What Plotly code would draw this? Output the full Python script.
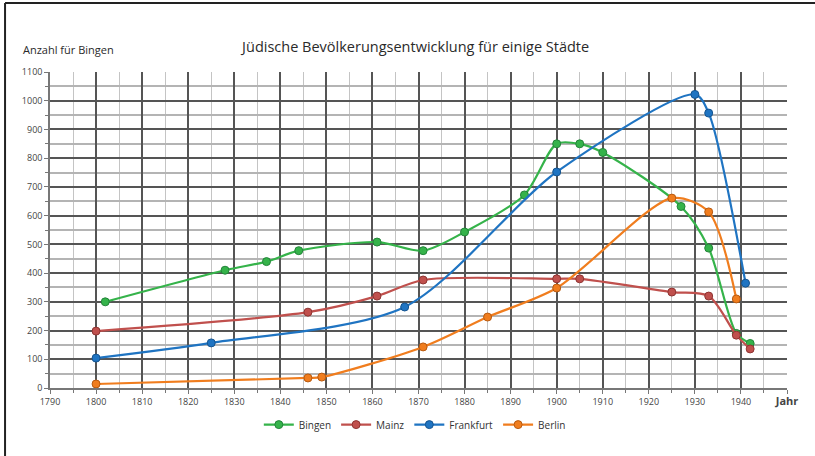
import plotly.graph_objects as go

# ---- data ----
bingen_years = [1802, 1828, 1837, 1844, 1861, 1871, 1880, 1893, 1900, 1905, 1910, 1927, 1933, 1939, 1942]
bingen_vals = [300, 410, 440, 478, 508, 478, 543, 672, 850, 850, 820, 632, 487, 190, 155]

mainz_years = [1800, 1846, 1861, 1871, 1900, 1905, 1925, 1933, 1939, 1942]
mainz_vals = [198, 264, 320, 376, 380, 380, 334, 320, 184, 136]

frankfurt_years = [1800, 1825, 1867, 1900, 1930, 1933, 1941]
frankfurt_vals = [104, 157, 282, 752, 1022, 957, 365]

berlin_years = [1800, 1846, 1849, 1871, 1885, 1900, 1925, 1933, 1939]
berlin_vals = [14, 35, 38, 143, 247, 348, 661, 613, 310]

x_ticks = list(range(1790, 1951, 10))
x_ticktext = [str(v) for v in range(1790, 1941, 10)] + ["<b><span style='font-size:11px'>Jahr</span></b>"]
y_ticks = list(range(0, 1101, 100))

series = [
    ("Bingen", bingen_years, bingen_vals, "#35b34a", "#23843a"),
    ("Mainz", mainz_years, mainz_vals, "#c0504d", "#8e3432"),
    ("Frankfurt", frankfurt_years, frankfurt_vals, "#1f74c2", "#15548f"),
    ("Berlin", berlin_years, berlin_vals, "#f07d1e", "#b85a10"),
]

fig = go.Figure()
for name, xs, ys, col, edge in series:
    fig.add_trace(go.Scatter(
        x=xs, y=ys, name=name, mode="lines+markers",
        line=dict(color=col, width=2.2, shape="spline", smoothing=0.8),
        marker=dict(size=8, color=col, line=dict(color=edge, width=1)),
    ))

fig.update_layout(
    width=815, height=456,
    margin=dict(l=50, r=28, t=72, b=68, autoexpand=False),
    paper_bgcolor="white", plot_bgcolor="white",
    font=dict(family="Open Sans, sans-serif", color="#333"),
    title=dict(text="Jüdische Bevölkerungsentwicklung für einige Städte",
               x=0.51, xanchor="center", y=0.897, yanchor="middle",
               font=dict(size=14.5, color="#2a2a2a")),
    showlegend=True,
    legend=dict(orientation="h", x=0.495, xanchor="center", y=-0.07, yanchor="top",
                font=dict(size=10, color="#333"), itemwidth=30,
                tracegroupgap=0),
    xaxis=dict(range=[1790, 1950], tickvals=x_ticks, ticktext=x_ticktext,
               showgrid=True, gridcolor="#555", gridwidth=1.5,
               minor=dict(dtick=5, showgrid=True, gridcolor="#c4c4c4", gridwidth=1,
                          ticks="outside", ticklen=3, tickcolor="#777"),
               ticks="outside", ticklen=4, tickcolor="#777",
               tickfont=dict(size=9, color="#444"),
               showline=True, linecolor="#777", linewidth=1.5,
               zeroline=False, fixedrange=True),
    yaxis=dict(range=[0, 1100], tickvals=y_ticks,
               showgrid=True, gridcolor="#555", gridwidth=1.5,
               minor=dict(dtick=50, showgrid=True, gridcolor="#b4b4b4", gridwidth=1.8,
                          ticks="outside", ticklen=3, tickcolor="#777"),
               ticks="outside", ticklen=4, tickcolor="#777",
               tickfont=dict(size=9, color="#444"),
               showline=True, linecolor="#777", linewidth=1.5,
               zeroline=False, fixedrange=True),
    annotations=[
        dict(text="Anzahl für Bingen", xref="paper", yref="paper",
             x=-0.04, y=1.07, xanchor="left", yanchor="middle",
             showarrow=False, font=dict(size=11, color="#2a2a2a")),
    ],
    shapes=[
        dict(type="line", xref="paper", yref="paper",
             x0=-0.061, x1=1.04, y0=1.218, y1=1.218,
             line=dict(color="#222", width=2)),
        dict(type="line", xref="paper", yref="paper",
             x0=-0.061, x1=-0.061, y0=1.218, y1=-0.23,
             line=dict(color="#222", width=2)),
    ],
)

fig.write_html("out.html")
